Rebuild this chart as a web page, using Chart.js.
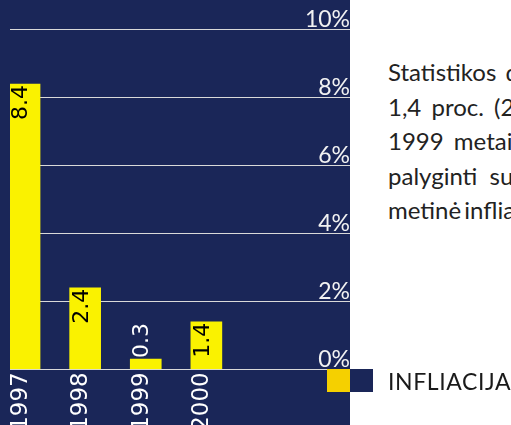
<!DOCTYPE html>
<html>
<head>
<meta charset="utf-8">
<script src="https://cdn.jsdelivr.net/npm/chart.js@4"></script>
<style>
  html, body { margin: 0; padding: 0; background: #fff; overflow: hidden; width: 511px; height: 425px; }
  #panel { position: absolute; left: 0; top: 0; width: 350px; height: 430px; background: #1a2658; }
  #text { position: absolute; left: 388px; top: 55px; width: 400px; font: 24px Lato, sans-serif; line-height: 34.5px; color: #222; white-space: nowrap; }
  .key { position: absolute; top: 369px; width: 23px; height: 23px; }
  #legendLabel { position: absolute; left: 388px; top: 367px; font: 23px Lato, sans-serif; letter-spacing: 0.6px; color: #1a1a1a; white-space: nowrap; }
</style>
</head>
<body>
<div id="panel"><canvas id="myChart" width="350" height="430"></canvas></div>
<div id="text">
  <div style="word-spacing: 3px">Statistikos departamento</div>
  <div style="word-spacing: 4px">1,4 proc. (2000</div>
  <div style="word-spacing: 4px">1999 metais</div>
  <div style="word-spacing: 6px">palyginti su</div>
  <div style="word-spacing: -3px">metinė infliacija</div>
</div>
<div class="key" style="left: 327px; background: #f5d000"></div>
<div class="key" style="left: 350px; background: #1a2658"></div>
<div id="legendLabel">INFLIACIJA</div>
<script>
// data
const categories = ['1997', '1998', '1999', '2000'];
const inflation = [8.4, 2.4, 0.3, 1.4];
const yTicks = [0, 2, 4, 6, 8, 10];

// rotated value labels on the bars
const valueLabels = {
    id: 'valueLabels',
    afterDatasetsDraw(chart) {
        const ctx = chart.ctx;
        const meta = chart.getDatasetMeta(0);
        ctx.save();
        ctx.font = '22px "DejaVu Sans", sans-serif';
        meta.data.forEach((bar, i) => {
            const text = inflation[i].toFixed(1);
            const w = ctx.measureText(text).width;
            const inside = bar.base - bar.y > w + 4;
            ctx.save();
            ctx.translate(bar.x - bar.width / 2 + 18, inside ? bar.y + 1 : bar.y - 1);
            ctx.rotate(-Math.PI / 2);
            ctx.textBaseline = 'alphabetic';
            ctx.textAlign = inside ? 'right' : 'left';
            ctx.fillStyle = inside ? '#000' : '#fff';
            ctx.fillText(text, 0, 0);
            ctx.restore();
        });
        ctx.restore();
    }
};

const ctx = document.getElementById('myChart').getContext('2d');
window.myChart = new Chart(ctx, {
    type: 'bar',
    data: {
        datasets: [{
            label: 'INFLIACIJA',
            data: inflation.map((v, i) => ({ x: i, y: v })),
            backgroundColor: '#faf200',
            borderWidth: 0,
            barThickness: 31
        }]
    },
    options: {
        responsive: false,
        animation: false,
        layout: { padding: { left: 10, right: 0, top: 29.7, bottom: 0 } },
        plugins: { legend: { display: false }, tooltip: { enabled: false } },
        scales: {
            x: {
                type: 'linear',
                offset: false,
                min: -0.24,
                max: 5.37,
                afterBuildTicks: (scale) => { scale.ticks = categories.map((_, i) => ({ value: i })); },
                afterFit: (scale) => { scale.height = 60.7; },
                grid: { display: false },
                border: { display: false },
                ticks: {
                    autoSkip: false,
                    minRotation: 90,
                    maxRotation: 90,
                    padding: -5,
                    labelOffset: -4,
                    color: '#ffffff',
                    font: { family: '"DejaVu Sans", sans-serif', size: 23 },
                    callback: (v) => categories[v] ?? ''
                }
            },
            y: {
                position: 'right',
                min: 0,
                max: 10,
                afterBuildTicks: (scale) => { scale.ticks = yTicks.map(v => ({ value: v })); },
                grid: { color: '#d9d9d9', lineWidth: 1, drawTicks: false },
                border: { display: false },
                ticks: {
                    mirror: true,
                    padding: 0,
                    labelOffset: -10,
                    color: '#f2f2f2',
                    font: { family: 'Lato, sans-serif', size: 23 },
                    callback: (v) => v + '%'
                }
            }
        }
    },
    plugins: [valueLabels]
});
</script>
</body>
</html>
